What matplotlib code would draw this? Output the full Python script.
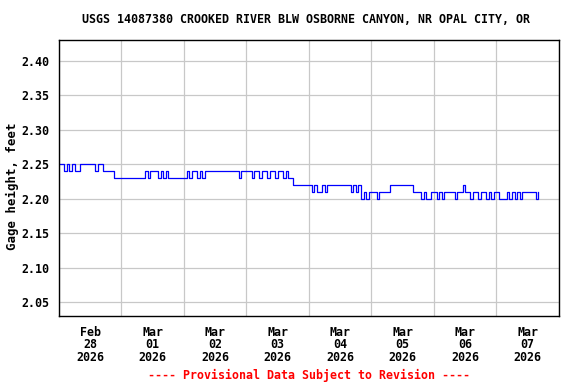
import numpy as np
import matplotlib
matplotlib.use("Agg")
import matplotlib.pyplot as plt
from datetime import datetime, timedelta

# hourly gage height readings (hundredths of a foot), one row per day
feb28 = [225, 225, 224, 225, 224, 225, 224, 224, 225, 225, 225, 225, 225, 225, 224, 225, 225, 224, 224, 224, 224, 223, 223, 223]
mar01 = [223, 223, 223, 223, 223, 223, 223, 223, 223, 224, 223, 224, 224, 224, 223, 224, 223, 224, 223, 223, 223, 223, 223, 223]
mar02 = [223, 224, 223, 224, 224, 223, 224, 223, 224, 224, 224, 224, 224, 224, 224, 224, 224, 224, 224, 224, 224, 223, 224, 224]
mar03 = [224, 224, 223, 224, 224, 223, 224, 224, 223, 224, 224, 223, 224, 224, 223, 224, 223, 223, 222, 222, 222, 222, 222, 222]
mar04 = [222, 221, 222, 221, 221, 222, 221, 222, 222, 222, 222, 222, 222, 222, 222, 222, 221, 222, 221, 222, 220, 221, 220, 221]
mar05 = [221, 221, 220, 221, 221, 221, 221, 222, 222, 222, 222, 222, 222, 222, 222, 222, 221, 221, 221, 220, 221, 220, 220, 221]
mar06 = [221, 220, 221, 220, 221, 221, 221, 221, 220, 221, 221, 222, 221, 221, 220, 221, 221, 220, 221, 221, 220, 221, 220, 221]
mar07 = [221, 220, 220, 220, 221, 220, 221, 220, 221, 220, 221, 221, 221, 221, 221, 220, 221]

start = datetime(2026, 2, 28)
readings = feb28 + mar01 + mar02 + mar03 + mar04 + mar05 + mar06 + mar07
times = [start + timedelta(hours=i) for i in range(len(readings))]
gage = np.array(readings) / 100.0

day_labels = ["Feb\n28\n2026", "Mar\n01\n2026", "Mar\n02\n2026", "Mar\n03\n2026",
              "Mar\n04\n2026", "Mar\n05\n2026", "Mar\n06\n2026", "Mar\n07\n2026"]
yticks = [2.05, 2.10, 2.15, 2.20, 2.25, 2.30, 2.35, 2.40]

font = dict(family="DejaVu Sans Mono", weight="bold", size=8.4)

fig = plt.figure(figsize=(5.76, 3.84), dpi=100)
ax = fig.add_axes([0.1024, 0.1771, 0.868, 0.7187])

ax.plot(times, gage, color="#0000ff", linewidth=0.9, drawstyle="steps-post")

ax.set_xlim(start, start + timedelta(days=8))
ax.set_ylim(2.0297, 2.4305)

days = [start + timedelta(days=d) for d in range(9)]
noons = [start + timedelta(days=d, hours=12) for d in range(8)]
ax.set_xticks(days)
ax.set_xticklabels([])
ax.set_xticks(noons, minor=True)
ax.set_xticklabels(day_labels, minor=True, linespacing=0.95, **font)
ax.set_yticks(yticks)
ax.set_yticklabels(["%.2f" % v for v in yticks], **font)
ax.tick_params(axis="both", which="both", length=0)
ax.tick_params(axis="x", which="minor", pad=7)
ax.tick_params(axis="y", pad=7)

ax.grid(True, which="major", color="#c8c8c8", linewidth=0.9)
ax.set_axisbelow(True)
for s in ax.spines.values():
    s.set_color("black")
    s.set_linewidth(1.0)

ax.set_ylabel("Gage height, feet", family="DejaVu Sans Mono", weight="bold", size=8.9)
ax.yaxis.set_label_coords(-0.079, 0.47)

fig.text(0.532, 0.948, "USGS 14087380 CROOKED RIVER BLW OSBORNE CANYON, NR OPAL CITY, OR",
         ha="center", va="center", **font)
fig.text(0.536, 0.023, "---- Provisional Data Subject to Revision ----",
         ha="center", va="center", color="red", **font)

fig.savefig("out.png", dpi=100)
